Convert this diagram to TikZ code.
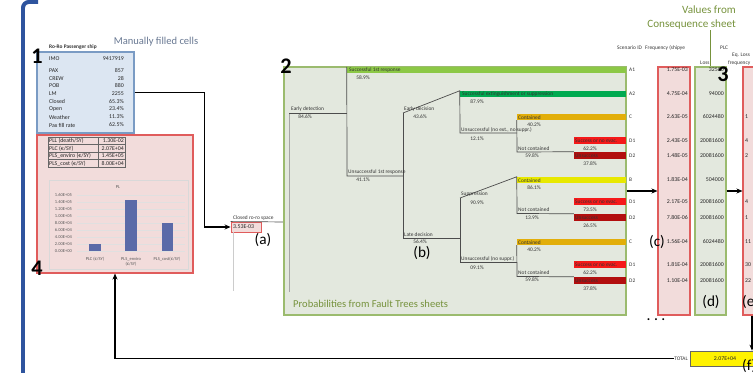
\documentclass[tikz,border=0pt]{standalone}
\usepackage{fontspec}
\setmainfont{Carlito}
\usetikzlibrary{arrows.meta,positioning,fit}
\definecolor{sidebar}{RGB}{46,84,158}
\definecolor{notegrey}{RGB}{104,120,146}
\definecolor{notegreen}{RGB}{118,146,60}
\definecolor{cellblue}{RGB}{220,230,242}
\definecolor{edgeblue}{RGB}{122,155,196}
\definecolor{cellred}{RGB}{242,220,219}
\definecolor{edgered}{RGB}{224,92,92}
\definecolor{cellgreen}{RGB}{227,232,222}
\definecolor{framegreen}{RGB}{155,187,110}
\definecolor{barlime}{RGB}{140,200,70}
\definecolor{bargreen}{RGB}{0,170,80}
\definecolor{barorange}{RGB}{226,174,10}
\definecolor{baryellow}{RGB}{232,232,0}
\definecolor{barred}{RGB}{245,25,25}
\definecolor{bardark}{RGB}{178,14,14}
\definecolor{chartbar}{RGB}{90,106,168}
\tikzset{
  celltext/.style={font=\fontsize{4.6}{5}\selectfont,text=black!80,inner sep=0pt},
  nums/.style={font=\fontsize{5}{6}\selectfont,text=black!85,inner sep=0pt},
  axisnum/.style={font=\fontsize{3.8}{4.5}\selectfont,text=black!65,inner sep=0pt},
  bignum/.style={font=\fontsize{19}{19}\selectfont\bfseries,inner sep=0pt},
  letter/.style={font=\fontsize{13}{13}\selectfont,inner sep=0pt},
  remark/.style={font=\fontsize{9}{11}\selectfont,inner sep=0pt},
  panel/.style={inner sep=0pt,line width=.9pt},
  bluepanel/.style={panel,fill=cellblue,draw=edgeblue},
  redpanel/.style={panel,fill=cellred,draw=edgered},
  greenpanel/.style={panel,fill=cellgreen,draw=framegreen},
  fillbar/.style={inner sep=0pt,fill=#1,draw=none},
  branch/.style={draw=black!70,line width=.6pt},
  tabline/.style={draw=black!60,line width=.4pt},
  link/.style={-{Stealth[length=1.8mm,width=1.5mm]},draw=black,line width=.9pt},
}
\begin{document}
\begin{tikzpicture}[x=0.03cm,y=-0.03cm]
  \useasboundingbox (0,0) rectangle (753,373);
  \clip (0,0) rectangle (753,373);
  \draw[sidebar,line width=3.4pt,rounded corners=5pt] (38,2) -- (23,2) -- (23,380);

  % ship data (1)
  \node[remark,text=notegrey] (manual) at (156,42) {Manually filled cells};
  \node[bluepanel,fit={(37,52) (134,133)}] (shipbox) {};
  \node[celltext,font=\fontsize{4.6}{5}\selectfont\bfseries,anchor=west] (shipname) at (49,47) {Ro-Ro Passenger ship};
  \foreach \y/\lab/\val [count=\i] in {59/IMO/9417919,71/PAX/857,78.5/CREW/28,86/POB/880,
      94/LM/2255,101.5/Closed/65.3\%,109/Open/23.4\%,117/Weather/11.3\%,125/Pax fill rate/62.5\%}{
    \node[nums,anchor=west] (ship\i) at (49,\y) {\lab};
    \node[nums,anchor=east] (shipv\i) at (124,\y) {\val};
  }
  \node[bignum] (num1) at (37,56) {1};

  % risk results (4)
  \node[redpanel,fit={(37,135) (193,273)}] (plbox) {};
  \draw[tabline] (48,137) rectangle (125,167);
  \draw[tabline] (98,137) -- (98,167);
  \draw[tabline] (48,144.5) -- (125,144.5) (48,152) -- (125,152) (48,159.5) -- (125,159.5);
  \node[nums,anchor=west] (pll) at (49,141) {PLL (death/SY)};
  \node[nums,anchor=east] (pllv) at (124,141) {1.30E-02};
  \node[nums,anchor=west] (plc) at (49,148.5) {PLC (€/SY)};
  \node[nums,anchor=east] (plcv) at (124,148.5) {2.07E+04};
  \node[nums,anchor=west] (plsenv) at (49,156) {PLS\_enviro (€/SY)};
  \node[nums,anchor=east] (plsenvv) at (124,156) {1.45E+05};
  \node[nums,anchor=west] (plscost) at (49,163.5) {PLS\_cost (€/SY)};
  \node[nums,anchor=east] (plscostv) at (124,163.5) {8.00E+04};
  \node[fit={(49,180) (188,269)},inner sep=0pt,draw=black!15,fill=cellred] (chart) {};
  \node[axisnum] (charttitle) at (118,187) {PL};
  \foreach \y/\tick [count=\i] in {195/1.60E+05,202/1.40E+05,209/1.20E+05,216/1.00E+05,
      223/8.00E+04,230/6.00E+04,237/4.00E+04,244/2.00E+04,251/0.00E+00}{
    \draw[black!12,line width=.3pt] (77,\y) -- (185,\y);
    \node[axisnum,anchor=east] (ytick\i) at (72,\y) {\tick};
  }
  \fill[chartbar] (89,251) rectangle (101,243.8);
  \fill[chartbar] (125,251) rectangle (137,200.5);
  \fill[chartbar] (162,251) rectangle (173,223);
  \node[axisnum] (xplc) at (95,259) {PLC (€/SY)};
  \node[axisnum,align=center] (xenv) at (131,262) {PLS\_enviro\\(€/SY)};
  \node[axisnum] (xcost) at (167,259) {PLS\_cost(€/SY)};
  \node[bignum] (num4) at (37,268) {4};

  % initiating frequency (a)
  \node[redpanel,fit={(231,222) (261,232)},line width=.7pt] (closedbox) {};
  \node[celltext,anchor=west] (closedlab) at (233,218) {Closed ro-ro space};
  \node[nums,anchor=west] (closedval) at (233,227) {3.53E-03};
  \coordinate (treein) at (289,222);
  \draw[branch] (closedbox.north west) -- (treein);
  \draw[black!20,line width=.4pt] (233,232) -- (233,291);
  \node[letter] (taga) at (263,240) {(a)};
  \draw[link] (shipbox.east) -- ++(70,0) |- (closedbox.west);

  % event tree (2)
  \node[greenpanel,fit={(284,67) (626,315)},line width=1.1pt] (frame) {};
  \node[bignum] (num2) at (286,66) {2};
  \draw[black!35,line width=.5pt] (289,113) -- (289,292);
  \node[fillbar=barlime,fit={(347,67) (626,73)}] (barA1) {};
  \node[fillbar=bargreen,fit={(460,91) (626,97.5)}] (barA2) {};
  \node[fillbar=barorange,fit={(517,114) (626,120)}] (barC1) {};
  \node[fillbar=barred,fit={(574,137) (626,144)}] (barS1) {};
  \node[fillbar=bardark,fit={(574,152) (626,159)}] (barU1) {};
  \node[fillbar=baryellow,fit={(517,177) (626,183)}] (barB) {};
  \node[fillbar=barred,fit={(574,198) (626,205.5)}] (barS2) {};
  \node[fillbar=bardark,fit={(574,214) (626,221.5)}] (barU2) {};
  \node[fillbar=barorange,fit={(517,239) (626,245)}] (barC2) {};
  \node[fillbar=barred,fit={(574,261) (626,268)}] (barS3) {};
  \node[fillbar=bardark,fit={(574,277) (626,284)}] (barU3) {};
  \draw[branch] (289,113) -- (347,113);
  \draw[branch] (barA1.north west) -- (347,176) -- (403,176);
  \draw[branch] (403,113) -- (403,238) -- (460,238);
  \draw[branch] (403,113) -- (barA2.north west) -- (460,133) -- (517,133);
  \draw[branch] (barC1.south west) -- (517,152) -- (barU1.north west);
  \draw[branch] (460,198) -- (460,262) -- (517,262);
  \draw[branch] (460,198) -- (barB.north west) -- (517,213.5) -- (barU2.north west);
  \draw[branch] (barC2.south west) -- (517,276.5) -- (barU3.north west);
  \node[celltext,anchor=west] (tA1) at (349,70.2) {Successful 1st response};
  \node[celltext] (pA1) at (363,78) {58.9\%};
  \node[celltext,anchor=west] (tdet) at (291,109.5) {Early detection};
  \node[celltext] (pdet) at (305,117) {84.6\%};
  \node[celltext,anchor=west] (tfirst) at (348,172.5) {Unsuccessful 1st response};
  \node[celltext] (pfirst) at (363,180) {41.1\%};
  \node[celltext,anchor=west] (tearly) at (404,109.5) {Early decision};
  \node[celltext] (pearly) at (420,117) {43.6\%};
  \node[celltext,anchor=west] (tlate) at (404,234.5) {Late decision};
  \node[celltext] (plate) at (420,242) {56.4\%};
  \node[letter] (tagb) at (422,253) {(b)};
  \node[celltext,anchor=west] (tA2) at (462,94.2) {Successful extinguishment or suppression};
  \node[celltext] (pA2) at (477,102) {87.9\%};
  \node[celltext,anchor=west] (tnoext) at (461,129.5) {Unsuccessful (no ext., no suppr.)};
  \node[celltext] (pnoext) at (477,139) {12.1\%};
  \node[celltext,anchor=west] (tC1) at (518,117.2) {Contained};
  \node[celltext] (pC1) at (534,125) {40.2\%};
  \node[celltext,anchor=west] (tnc1) at (518,148.5) {Not contained};
  \node[celltext] (pnc1) at (532,156) {59.8\%};
  \node[celltext,anchor=west] (tS1) at (575,140.5) {Success or no evac.};
  \node[celltext] (pS1) at (590,148.5) {62.2\%};
  \node[celltext,anchor=west] (tU1) at (575,155.5) {Unsuccess};
  \node[celltext] (pU1) at (590,164) {37.8\%};
  \node[celltext,anchor=west] (tsupp) at (461,194.5) {Suppression};
  \node[celltext] (psupp) at (477,203) {90.9\%};
  \node[celltext,anchor=west] (tB) at (518,180.2) {Contained};
  \node[celltext] (pB) at (534,188) {86.1\%};
  \node[celltext,anchor=west] (tnc2) at (518,210) {Not contained};
  \node[celltext] (pnc2) at (532,218) {13.9\%};
  \node[celltext,anchor=west] (tS2) at (575,201.8) {Success or no evac.};
  \node[celltext] (pS2) at (590,210) {73.5\%};
  \node[celltext,anchor=west] (tU2) at (575,217.8) {Unsuccess};
  \node[celltext] (pU2) at (590,226) {26.5\%};
  \node[celltext,anchor=west] (tnosupp) at (461,258.5) {Unsuccessful (no suppr.)};
  \node[celltext] (pnosupp) at (477,268) {09.1\%};
  \node[celltext,anchor=west] (tC2) at (518,242.2) {Contained};
  \node[celltext] (pC2) at (534,250) {40.2\%};
  \node[celltext,anchor=west] (tnc3) at (518,272.5) {Not contained};
  \node[celltext] (pnc3) at (532,280) {59.8\%};
  \node[celltext,anchor=west] (tS3) at (575,264.5) {Success or no evac.};
  \node[celltext] (pS3) at (590,272.5) {62.2\%};
  \node[celltext,anchor=west] (tU3) at (575,280.5) {Unsuccess};
  \node[celltext] (pU3) at (590,288.5) {37.8\%};
  \node[remark,text=notegreen,anchor=west] (ftnote) at (293,304) {Probabilities from Fault Trees sheets};

  % scenario columns (c) (d) (e)
  \node[redpanel,fit={(658,67) (690,315)}] (colc) {};
  \node[greenpanel,fit={(695,67) (726,315)}] (cold) {};
  \node[redpanel,fit={(743,67) (761,315)}] (cole) {};
  \node[celltext,anchor=west] (headid) at (617,48) {Scenario ID};
  \node[celltext,anchor=west] (headfreq) at (645,48) {Frequency (shipye};
  \node[celltext,anchor=west] (headplc) at (720,48) {PLC};
  \node[celltext,anchor=west] (headeq) at (732,55.5) {Eq. Loss};
  \node[celltext,anchor=west] (headloss) at (700,63) {Loss};
  \node[celltext,anchor=west] (headfq) at (728,63) {frequency};
  \foreach \y/\sid/\freq/\loss [count=\i] in {70/A1/1.75E-03/32500,94/A2/4.75E-04/94000,
      117/C/2.63E-05/6024480,140.5/D1/2.43E-05/20081600,155.5/D2/1.48E-05/20081600,
      180/B/1.83E-04/504000,202/D1/2.17E-05/20081600,218/D2/7.80E-06/20081600,
      242/C/1.56E-04/6024480,264.5/D1/1.81E-04/20081600,280.5/D2/1.10E-04/20081600}{
    \node[celltext,anchor=west] (sid\i) at (629,\y) {\sid};
    \node[nums,anchor=east] (freq\i) at (688,\y) {\freq};
    \node[nums,anchor=east] (loss\i) at (724,\y) {\loss};
  }
  \foreach \y/\part [count=\i] in {117/1,140.5/4,155.5/2,202/4,218/1,242/11,264.5/30,280.5/22}{
    \node[nums,anchor=west] (eql\i) at (745,\y) {\part};
  }
  \node[bignum] (num3) at (723,74) {3};
  \node[remark,text=notegreen,anchor=east,align=right,font=\fontsize{9.5}{12}\selectfont] (consnote) at (736,18) {Values from\\Consequence sheet};
  \draw[notegreen,line width=.8pt] (cold.north) -- (cold.north |- consnote.south);
  \node[letter] (tagc) at (657,242) {(c)};
  \node[letter] (tagd) at (711,302) {(d)};
  \node[letter,anchor=west] (tage) at (742,302) {(e)};
  \node[font=\fontsize{11}{11}\selectfont\bfseries,inner sep=0pt] (more) at (656,320) {. . .};
  \draw[link] (frame) -- (colc);
  \draw[link] (cold) -- (cole);

  % total and feedback
  \node[fit={(690,351) (775,366)},inner sep=0pt,fill=yellow,draw=black!60,line width=.6pt] (total) {};
  \node[nums] (totalval) at (725,358.5) {2.07E+04};
  \node[celltext,anchor=east] (totallab) at (688,358.5) {TOTAL};
  \node[letter,anchor=west] (tagf) at (742,366) {(f)};
  \draw[link,line width=1.4pt] (cole.south) -- (cole.south |- total.north);
  \draw[link] (totallab.west) -| (plbox.south);
\end{tikzpicture}
\end{document}
